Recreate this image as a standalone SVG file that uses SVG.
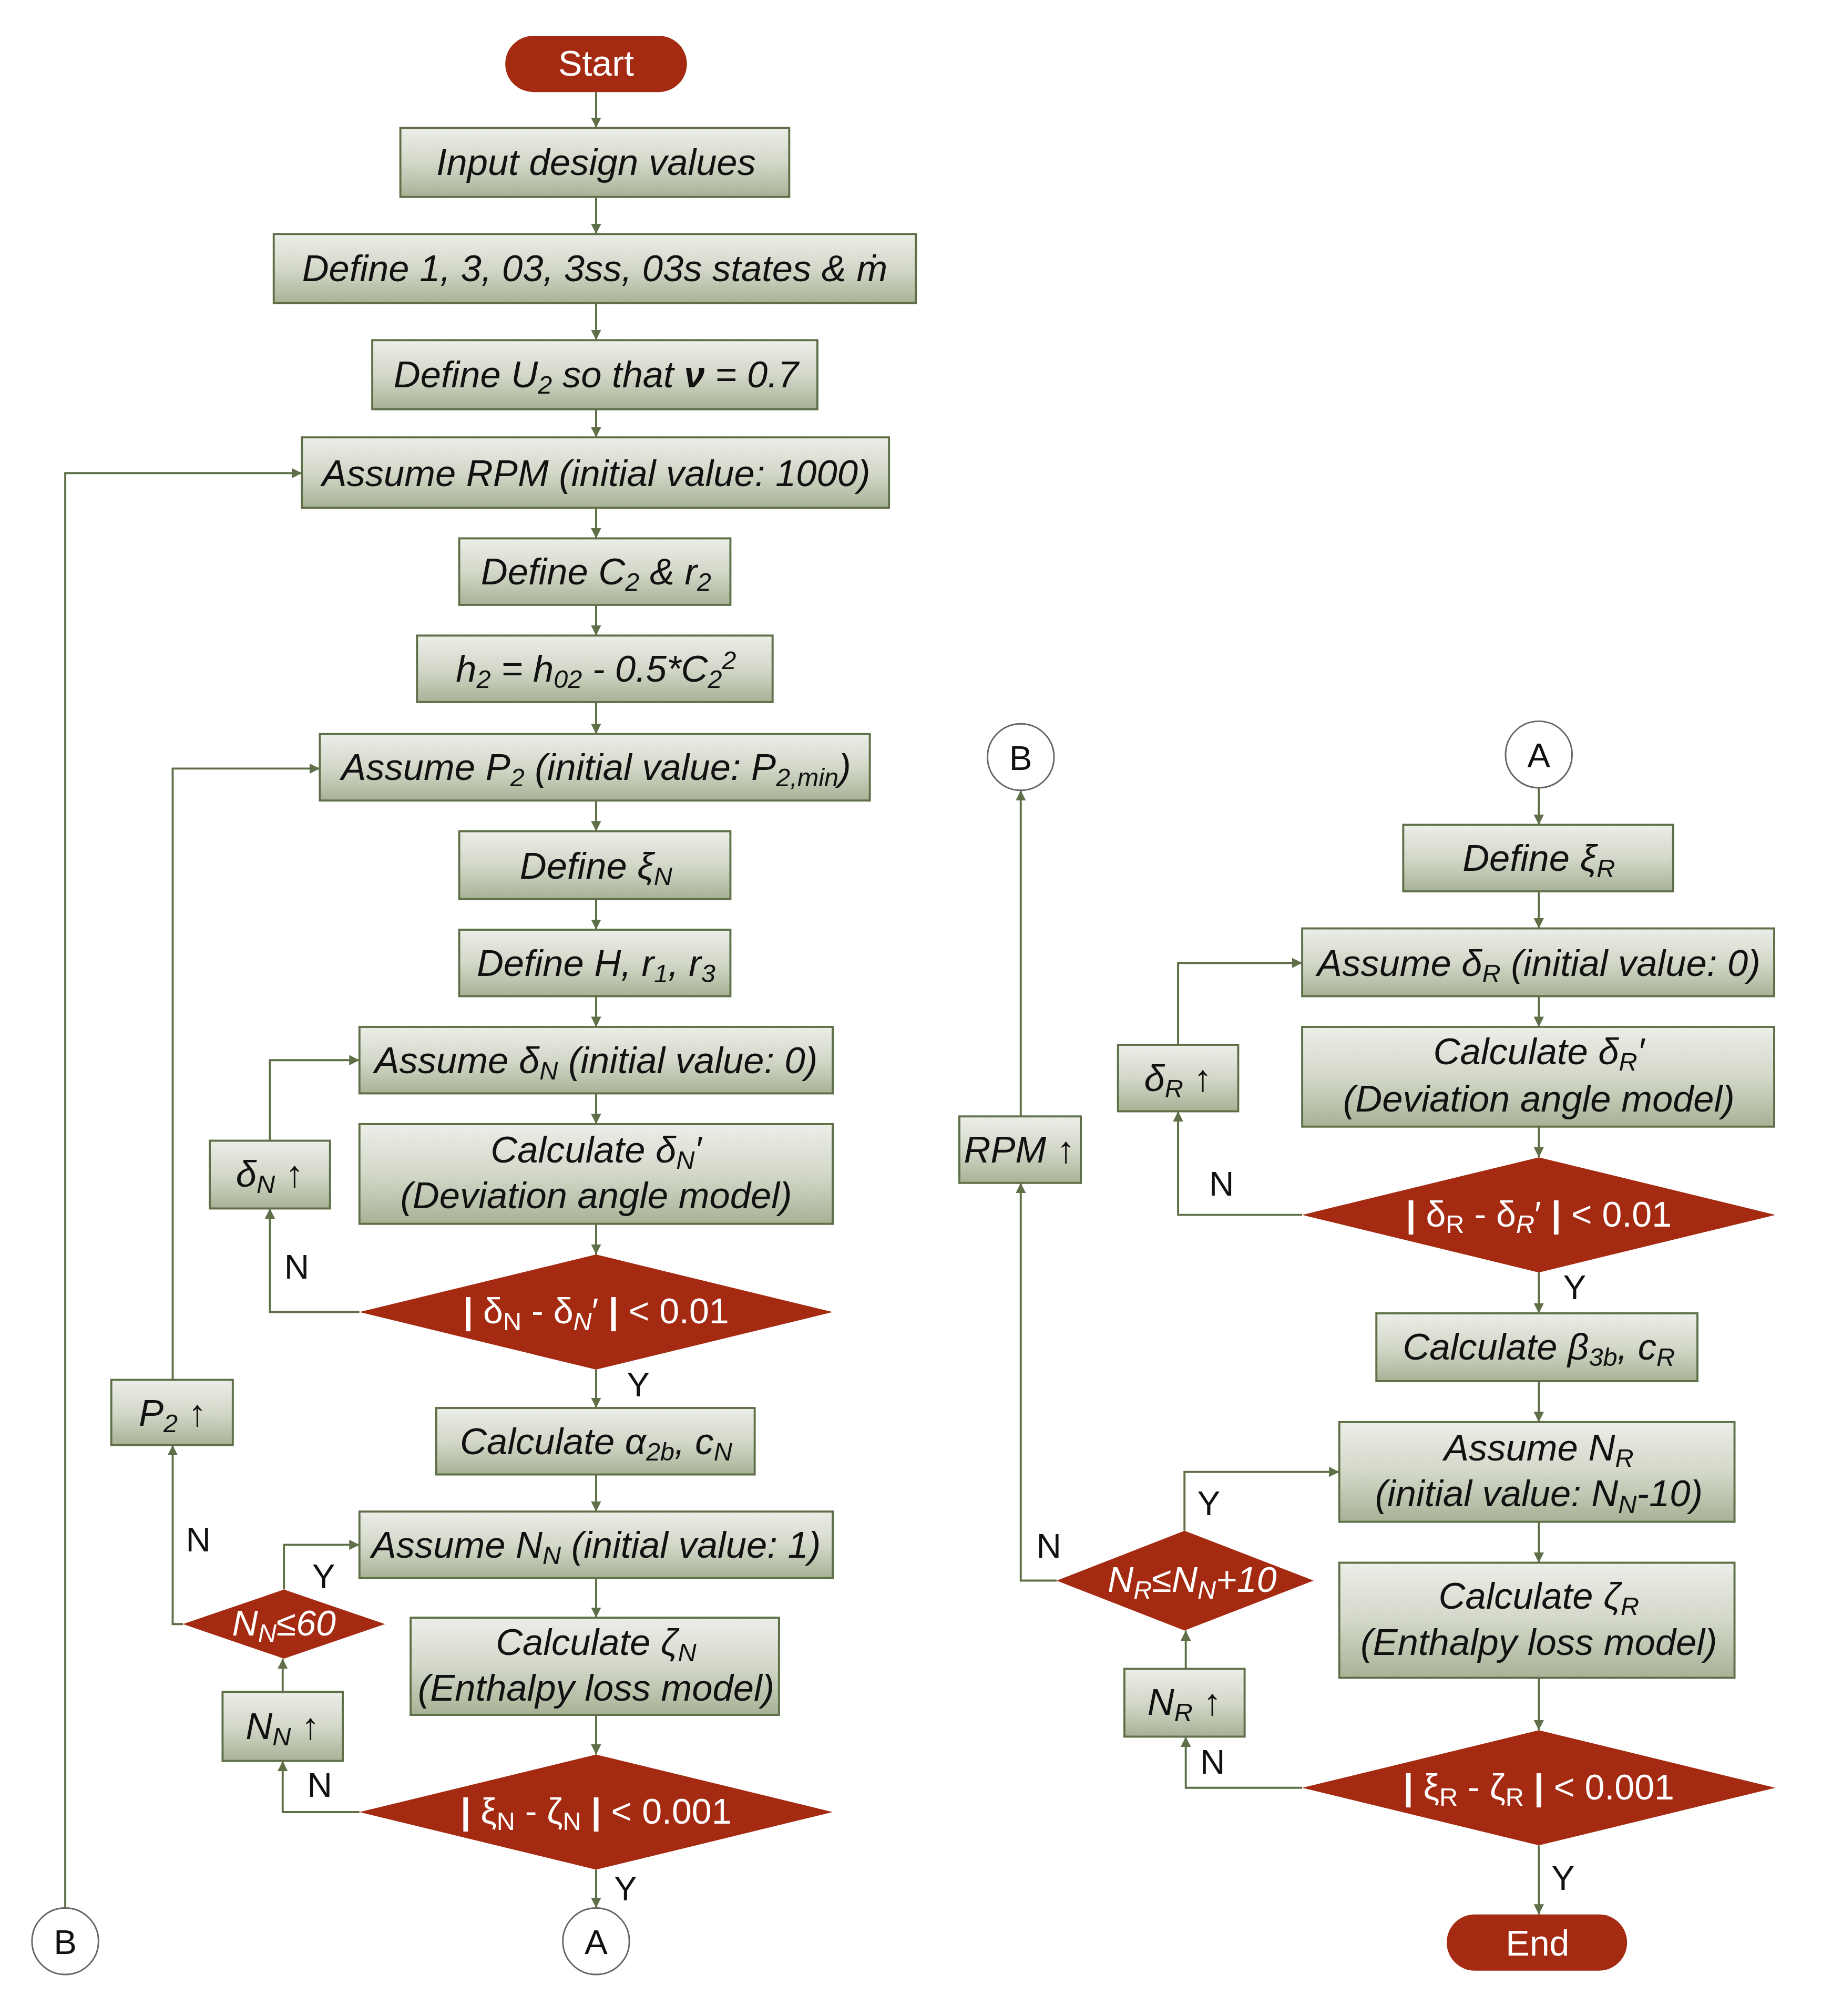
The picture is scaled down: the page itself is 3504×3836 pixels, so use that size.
<svg xmlns="http://www.w3.org/2000/svg" width="3504" height="3836" viewBox="0 0 3504 3836">
<style>
.b{fill:url(#g);stroke:#5f7048;stroke-width:1.6}
.d{fill:#a52a12}
.t{font-family:"Liberation Sans Narrow","Liberation Sans",sans-serif;font-style:italic;font-size:29px;fill:#111;text-anchor:middle}
.w{font-family:"Liberation Sans Narrow","Liberation Sans",sans-serif;font-size:28px;fill:#fff;text-anchor:middle}
.l{font-family:"Liberation Sans Narrow","Liberation Sans",sans-serif;font-size:27px;fill:#111;text-anchor:middle}
.c{fill:#fff;stroke:#666;stroke-width:1.2}
.s{font-size:20px}
#conn path{fill:none;stroke:#5f7048;stroke-width:1.6;marker-end:url(#m)}
</style>
<defs>
<linearGradient id="g" x1="0" y1="0" x2="0" y2="1"><stop offset="0" stop-color="#eceee8"/><stop offset="0.5" stop-color="#d3d8c9"/><stop offset="1" stop-color="#a8b296"/></linearGradient>
<marker id="m" markerUnits="userSpaceOnUse" markerWidth="9" markerHeight="8" refX="8" refY="4" orient="auto"><path d="M0,0 L8,4 L0,8 z" fill="#5f7048"/></marker>
</defs>
<rect width="3504" height="3836" fill="#fff"/>
<g transform="scale(2.4333)">
<g id="conn">
<path d="M466,72 V100"/><path d="M466,154 V183"/><path d="M466,237 V266"/><path d="M466,320 V342"/>
<path d="M466,397 V421"/><path d="M466,473 V497"/><path d="M466,549 V574"/><path d="M466,626 V650"/>
<path d="M466,703 V727"/><path d="M466,779 V803"/><path d="M466,855 V879"/><path d="M466,957 V981"/>
<path d="M466,1071 V1101"/><path d="M466,1153 V1182"/><path d="M466,1234 V1265"/><path d="M466,1341 V1372"/>
<path d="M466,1462 V1492"/>
<path d="M281,1026 H211 V945"/><path d="M211,892 V829 H281"/>
<path d="M281,1417 H221 V1377"/><path d="M221,1323 V1297"/><path d="M222,1243 V1208 H281"/>
<path d="M143,1270 H135 V1130"/><path d="M135,1079 V601 H250"/>
<path d="M51,1492 V370 H236"/>
<path d="M1203,616 V645"/><path d="M1203,697 V726"/><path d="M1203,779 V803"/><path d="M1203,881 V905"/>
<path d="M1203,995 V1027"/><path d="M1203,1080 V1112"/><path d="M1203,1190 V1222"/><path d="M1203,1312 V1353"/>
<path d="M1203,1443 V1497"/>
<path d="M1018,950 H921 V869"/><path d="M921,817 V753 H1018"/>
<path d="M1018,1398 H927 V1358"/><path d="M927,1305 V1275"/><path d="M926,1197 V1151 H1047"/>
<path d="M826,1236 H798 V925"/><path d="M798,873 V618"/>
</g>
<g id="start"><rect x="395" y="28" width="142" height="44" rx="22" class="d"/><text x="466" y="59" class="w" font-size="29">Start</text></g>
<g id="n1"><rect x="313" y="100" width="304" height="54" class="b"/><text x="466" y="137" class="t">Input design values</text></g>
<g id="n2"><rect x="214" y="183" width="502" height="54" class="b"/><text x="465" y="220" class="t">Define 1, 3, 03, 3ss, 03s states &amp; ṁ</text></g>
<g id="n3"><rect x="291" y="266" width="348" height="54" class="b"/><text x="466" y="303" class="t">Define U<tspan class="s" dy="5">2</tspan><tspan dy="-5"> so that </tspan><tspan font-weight="bold">ν</tspan> = 0.7</text></g>
<g id="n4"><rect x="236" y="342" width="459" height="55" class="b"/><text x="466" y="380" class="t">Assume RPM (initial value: 1000)</text></g>
<g id="n5"><rect x="359" y="421" width="212" height="52" class="b"/><text x="466" y="457" class="t">Define C<tspan class="s" dy="5">2</tspan><tspan dy="-5"> &amp; r</tspan><tspan class="s" dy="5">2</tspan></text></g>
<g id="n6"><rect x="326" y="497" width="278" height="52" class="b"/><text x="466" y="533" class="t">h<tspan class="s" dy="5">2</tspan><tspan dy="-5"> = h</tspan><tspan class="s" dy="5">02</tspan><tspan dy="-5"> - 0.5*C</tspan><tspan class="s" dy="5">2</tspan><tspan class="s" dy="-15">2</tspan></text></g>
<g id="n7"><rect x="250" y="574" width="430" height="52" class="b"/><text x="466" y="610" class="t">Assume P<tspan class="s" dy="5">2</tspan><tspan dy="-5"> (initial value: P</tspan><tspan class="s" dy="5">2,min</tspan><tspan dy="-5">)</tspan></text></g>
<g id="n8"><rect x="359" y="650" width="212" height="53" class="b"/><text x="466" y="687" class="t">Define ξ<tspan class="s" dy="5">N</tspan></text></g>
<g id="n9"><rect x="359" y="727" width="212" height="52" class="b"/><text x="466" y="763" class="t">Define H, r<tspan class="s" dy="5">1</tspan><tspan dy="-5">, r</tspan><tspan class="s" dy="5">3</tspan></text></g>
<g id="n10"><rect x="281" y="803" width="370" height="52" class="b"/><text x="466" y="839" class="t">Assume δ<tspan class="s" dy="5">N</tspan><tspan dy="-5"> (initial value: 0)</tspan></text></g>
<g id="n11"><rect x="281" y="879" width="370" height="78" class="b"/><text x="466" y="909" class="t">Calculate δ<tspan class="s" dy="5">N</tspan><tspan dy="-5">′</tspan></text><text x="466" y="945" class="t">(Deviation angle model)</text></g>
<g id="d1"><polygon points="281,1026 466,981 651,1026 466,1071" class="d"/><text x="466" y="1035" class="w"><tspan font-weight="bold">|</tspan> δ<tspan class="s" dy="5">N</tspan><tspan dy="-5"> - δ</tspan><tspan class="s" dy="5" font-style="italic">N</tspan><tspan dy="-5">′ </tspan><tspan font-weight="bold">|</tspan> &lt; 0.01</text></g>
<g id="n12"><rect x="341" y="1101" width="249" height="52" class="b"/><text x="466" y="1137" class="t">Calculate α<tspan class="s" dy="5">2b</tspan><tspan dy="-5">, c</tspan><tspan class="s" dy="5">N</tspan></text></g>
<g id="n13"><rect x="281" y="1182" width="370" height="52" class="b"/><text x="466" y="1218" class="t">Assume N<tspan class="s" dy="5">N</tspan><tspan dy="-5"> (initial value: 1)</tspan></text></g>
<g id="n14"><rect x="321" y="1265" width="288" height="76" class="b"/><text x="466" y="1294" class="t">Calculate ζ<tspan class="s" dy="5">N</tspan></text><text x="466" y="1330" class="t">(Enthalpy loss model)</text></g>
<g id="d3"><polygon points="281,1417 466,1372 651,1417 466,1462" class="d"/><text x="466" y="1426" class="w"><tspan font-weight="bold">|</tspan> ξ<tspan class="s" dy="5">N</tspan><tspan dy="-5"> - ζ</tspan><tspan class="s" dy="5">N</tspan><tspan dy="-5"> </tspan><tspan font-weight="bold">|</tspan> &lt; 0.001</text></g>
<g id="dn"><rect x="164" y="892" width="94" height="53" class="b"/><text x="211" y="928" class="t" font-style="normal">δ<tspan class="s" dy="5">N</tspan><tspan dy="-5" font-weight="bold"> ↑</tspan></text></g>
<g id="p2"><rect x="87" y="1079" width="95" height="51" class="b"/><text x="135" y="1115" class="t">P<tspan class="s" dy="5">2</tspan><tspan dy="-5" font-weight="bold" font-style="normal"> ↑</tspan></text></g>
<g id="d2"><polygon points="143,1270 222,1243 301,1270 222,1297" class="d"/><text x="222" y="1279" class="w" font-style="italic">N<tspan class="s" dy="5">N</tspan><tspan dy="-5">≤60</tspan></text></g>
<g id="nn"><rect x="174" y="1323" width="94" height="54" class="b"/><text x="221" y="1360" class="t">N<tspan class="s" dy="5">N</tspan><tspan dy="-5" font-weight="bold" font-style="normal"> ↑</tspan></text></g>
<g id="A1"><circle cx="466" cy="1518" r="26" class="c"/><text x="466" y="1528" class="l">A</text></g>
<g id="B1"><circle cx="51" cy="1518" r="26" class="c"/><text x="51" y="1528" class="l">B</text></g>
<g id="B2"><circle cx="798" cy="592" r="26" class="c"/><text x="798" y="602" class="l">B</text></g>
<g id="A2"><circle cx="1203" cy="590" r="26" class="c"/><text x="1203" y="600" class="l">A</text></g>
<g id="r1"><rect x="1097" y="645" width="211" height="52" class="b"/><text x="1203" y="681" class="t">Define ξ<tspan class="s" dy="5">R</tspan></text></g>
<g id="r2"><rect x="1018" y="726" width="369" height="53" class="b"/><text x="1203" y="763" class="t">Assume δ<tspan class="s" dy="5">R</tspan><tspan dy="-5"> (initial value: 0)</tspan></text></g>
<g id="r3"><rect x="1018" y="803" width="369" height="78" class="b"/><text x="1203" y="832" class="t">Calculate δ<tspan class="s" dy="5">R</tspan><tspan dy="-5">′</tspan></text><text x="1203" y="869" class="t">(Deviation angle model)</text></g>
<g id="rd1"><polygon points="1018,950 1203,905 1388,950 1203,995" class="d"/><text x="1203" y="959" class="w"><tspan font-weight="bold">|</tspan> δ<tspan class="s" dy="5">R</tspan><tspan dy="-5"> - δ</tspan><tspan class="s" dy="5" font-style="italic">R</tspan><tspan dy="-5">′ </tspan><tspan font-weight="bold">|</tspan> &lt; 0.01</text></g>
<g id="r4"><rect x="1076" y="1027" width="251" height="53" class="b"/><text x="1203" y="1063" class="t">Calculate β<tspan class="s" dy="5">3b</tspan><tspan dy="-5">, c</tspan><tspan class="s" dy="5">R</tspan></text></g>
<g id="r5"><rect x="1047" y="1112" width="309" height="78" class="b"/><text x="1203" y="1142" class="t">Assume N<tspan class="s" dy="5">R</tspan></text><text x="1203" y="1178" class="t">(initial value: N<tspan class="s" dy="5">N</tspan><tspan dy="-5">-10)</tspan></text></g>
<g id="r6"><rect x="1047" y="1222" width="309" height="90" class="b"/><text x="1203" y="1258" class="t">Calculate ζ<tspan class="s" dy="5">R</tspan></text><text x="1203" y="1294" class="t">(Enthalpy loss model)</text></g>
<g id="rd3"><polygon points="1018,1398 1203,1353 1388,1398 1203,1443" class="d"/><text x="1203" y="1407" class="w"><tspan font-weight="bold">|</tspan> ξ<tspan class="s" dy="5">R</tspan><tspan dy="-5"> - ζ</tspan><tspan class="s" dy="5">R</tspan><tspan dy="-5"> </tspan><tspan font-weight="bold">|</tspan> &lt; 0.001</text></g>
<g id="end"><rect x="1131" y="1497" width="141" height="44" rx="22" class="d"/><text x="1202" y="1529" class="w" font-size="29">End</text></g>
<g id="dr"><rect x="874" y="817" width="94" height="52" class="b"/><text x="921" y="853" class="t" font-style="normal">δ<tspan class="s" dy="5">R</tspan><tspan dy="-5" font-weight="bold"> ↑</tspan></text></g>
<g id="rpm"><rect x="750" y="873" width="95" height="52" class="b"/><text x="797" y="909" class="t">RPM<tspan font-weight="bold" font-style="normal"> ↑</tspan></text></g>
<g id="rd2"><polygon points="826,1236 926,1197 1027,1236 926,1275" class="d"/><text x="932" y="1245" class="w" font-style="italic">N<tspan class="s" dy="5">R</tspan><tspan dy="-5">≤N</tspan><tspan class="s" dy="5">N</tspan><tspan dy="-5">+10</tspan></text></g>
<g id="nr"><rect x="879" y="1305" width="94" height="53" class="b"/><text x="926" y="1341" class="t">N<tspan class="s" dy="5">R</tspan><tspan dy="-5" font-weight="bold" font-style="normal"> ↑</tspan></text></g>
<g id="labels">
<text x="232" y="1000" class="l">N</text><text x="499" y="1092" class="l">Y</text>
<text x="250" y="1405" class="l">N</text><text x="489" y="1486" class="l">Y</text>
<text x="253" y="1242" class="l">Y</text><text x="155" y="1213" class="l">N</text>
<text x="955" y="935" class="l">N</text><text x="1231" y="1016" class="l">Y</text>
<text x="945" y="1185" class="l">Y</text><text x="820" y="1218" class="l">N</text>
<text x="948" y="1387" class="l">N</text><text x="1222" y="1478" class="l">Y</text>
</g>
</g>
</svg>
